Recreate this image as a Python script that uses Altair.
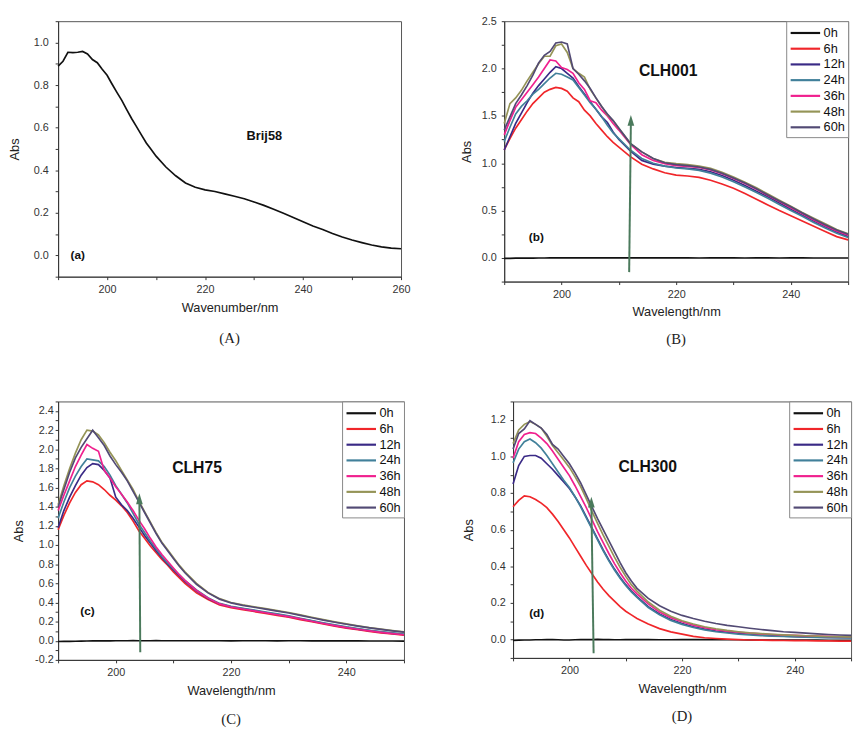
import altair as alt
import pandas as pd

# ---------------- data ----------------
series_order = ["0h", "6h", "12h", "24h", "36h", "48h", "60h"]
series_colors = ["#111111", "#f0262a", "#3a2a86", "#41809a", "#f0208e", "#959457", "#524a74"]

# Panel (a) Brij58
a_nm = [190, 191, 192, 193, 194, 195, 196, 197, 198, 199, 200, 201, 202, 203, 204, 205, 206, 207, 208, 209, 210,
        212, 214, 216, 218, 220, 222, 224, 226, 228, 230, 232, 234, 236, 238, 240, 242, 244, 246, 248, 250,
        252, 254, 256, 258, 260]
a_abs = [0.889, 0.912, 0.954, 0.952, 0.954, 0.958, 0.946, 0.920, 0.905, 0.874, 0.846, 0.805, 0.766, 0.728, 0.685,
         0.643, 0.605, 0.566, 0.528, 0.497, 0.466,
         0.415, 0.374, 0.340, 0.320, 0.308, 0.300, 0.289, 0.278, 0.266, 0.251, 0.235, 0.217, 0.198, 0.178, 0.158,
         0.138, 0.122, 0.103, 0.086, 0.072, 0.060, 0.049, 0.040, 0.034, 0.031]

# Panel (b) CLH001
b_nm = [190, 191, 192, 193, 194, 195, 196, 197, 198, 199, 200, 201, 202, 203, 204, 205, 206, 207, 208, 209, 210,
        212, 214, 216, 218, 220, 222, 224, 226, 228, 230, 232, 234, 236, 238, 240, 242, 244, 246, 248, 250]
b_0h = [-0.005, -0.004, -0.003, -0.003, -0.002, -0.002, -0.001, -0.001, 0.0, 0.0, 0.0, 0.001, 0.0, 0.0, 0.001,
        0.0, 0.0, 0.0, 0.001, 0.0, 0.0,
        0.0, 0.0, 0.001, 0.0, 0.0, 0.0, -0.001, 0.0, 0.0, 0.0, -0.001, 0.0, 0.0, -0.001, 0.0, 0.0, -0.001,
        -0.001, -0.001, -0.001]
b_6h = [1.14, 1.26, 1.37, 1.46, 1.55, 1.63, 1.69, 1.75, 1.78, 1.80, 1.79, 1.76, 1.69, 1.65, 1.56, 1.50, 1.42,
        1.35, 1.28, 1.22, 1.17,
        1.07, 0.99, 0.94, 0.90, 0.875, 0.865, 0.85, 0.82, 0.78, 0.735, 0.68, 0.62, 0.56, 0.50, 0.445, 0.39,
        0.335, 0.28, 0.225, 0.19]
b_12h = [1.14, 1.28, 1.42, 1.53, 1.64, 1.74, 1.82, 1.89, 1.96, 2.02, 2.00, 1.95, 1.90, 1.81, 1.73, 1.65, 1.57,
         1.49, 1.43, 1.33, 1.25,
         1.13, 1.03, 0.99, 0.97, 0.955, 0.945, 0.935, 0.91, 0.87, 0.82, 0.765, 0.705, 0.645, 0.58, 0.515, 0.45,
         0.39, 0.33, 0.275, 0.225]
b_24h = [1.23, 1.38, 1.52, 1.60, 1.66, 1.73, 1.78, 1.84, 1.90, 1.95, 1.94, 1.91, 1.88, 1.80, 1.72, 1.64, 1.57,
         1.49, 1.40, 1.32, 1.26,
         1.14, 1.05, 1.00, 0.97, 0.95, 0.94, 0.925, 0.895, 0.855, 0.805, 0.75, 0.69, 0.63, 0.565, 0.50, 0.44,
         0.375, 0.315, 0.26, 0.215]
b_36h = [1.30, 1.45, 1.59, 1.67, 1.75, 1.83, 1.91, 2.00, 2.09, 2.08, 2.01, 1.99, 1.95, 1.85, 1.78, 1.66, 1.64,
         1.56, 1.50, 1.42, 1.35,
         1.20, 1.09, 1.03, 0.995, 0.975, 0.965, 0.955, 0.93, 0.89, 0.84, 0.785, 0.725, 0.66, 0.595, 0.53, 0.465,
         0.40, 0.34, 0.285, 0.24]
b_48h = [1.42, 1.63, 1.69, 1.77, 1.87, 1.96, 2.05, 2.13, 2.13, 2.24, 2.26, 2.17, 2.00, 1.95, 1.91, 1.78, 1.69,
         1.60, 1.51, 1.45, 1.37,
         1.21, 1.12, 1.05, 1.01, 0.995, 0.985, 0.97, 0.945, 0.905, 0.855, 0.80, 0.74, 0.675, 0.61, 0.545, 0.48,
         0.42, 0.36, 0.30, 0.255]
b_60h = [1.35, 1.49, 1.63, 1.72, 1.82, 1.93, 2.06, 2.14, 2.18, 2.27, 2.28, 2.26, 2.00, 1.94, 1.87, 1.79, 1.69,
         1.60, 1.52, 1.45, 1.37,
         1.21, 1.12, 1.05, 1.005, 0.985, 0.975, 0.96, 0.935, 0.895, 0.845, 0.79, 0.73, 0.665, 0.60, 0.54, 0.475,
         0.41, 0.35, 0.295, 0.25]

# Panel (c) CLH75
c_nm = [190, 191, 192, 193, 194, 195, 196, 197, 198, 199, 200, 201, 202, 203, 204, 205, 206, 207, 208, 209, 210,
        211, 212, 214, 216, 218, 220, 222, 224, 226, 228, 230, 232, 234, 236, 238, 240, 242, 244, 246, 248, 250]
c_0h = [-0.008, -0.007, -0.006, -0.005, -0.004, -0.003, -0.002, -0.002, -0.001, -0.001, 0.0, 0.0, 0.0, 0.001,
        0.0, 0.0, 0.0, 0.001, 0.0, 0.0, 0.0, 0.0, 0.0,
        0.0, 0.0, 0.0, -0.001, 0.0, 0.0, 0.0, -0.001, 0.0, 0.0, -0.001, -0.001, -0.002, -0.002, -0.002, -0.003,
        -0.003, -0.003, -0.004]
c_6h = [1.16, 1.31, 1.44, 1.55, 1.63, 1.67, 1.66, 1.63, 1.58, 1.52, 1.47, 1.41, 1.34, 1.25, 1.15, 1.07, 0.99,
        0.92, 0.85, 0.79, 0.72, 0.66, 0.60,
        0.50, 0.43, 0.375, 0.345, 0.325, 0.305, 0.285, 0.265, 0.245, 0.22, 0.198, 0.175, 0.153, 0.132, 0.115,
        0.098, 0.083, 0.07, 0.058]
c_12h = [1.18, 1.36, 1.50, 1.62, 1.73, 1.81, 1.85, 1.84, 1.78, 1.70, 1.50, 1.42, 1.36, 1.28, 1.19, 1.10, 1.02,
         0.94, 0.87, 0.80, 0.74, 0.68, 0.62,
         0.52, 0.44, 0.385, 0.355, 0.335, 0.315, 0.295, 0.275, 0.255, 0.23, 0.207, 0.183, 0.161, 0.14, 0.122,
         0.105, 0.09, 0.077, 0.065]
c_24h = [1.28, 1.45, 1.60, 1.72, 1.82, 1.90, 1.89, 1.88, 1.82, 1.73, 1.62, 1.53, 1.44, 1.33, 1.22, 1.13, 1.04,
         0.96, 0.88, 0.81, 0.75, 0.69, 0.63,
         0.53, 0.45, 0.39, 0.36, 0.34, 0.32, 0.30, 0.28, 0.26, 0.235, 0.212, 0.188, 0.166, 0.145, 0.127, 0.11,
         0.095, 0.082, 0.07]
c_36h = [1.36, 1.52, 1.67, 1.82, 1.94, 2.05, 2.01, 1.98, 1.78, 1.70, 1.61, 1.53, 1.45, 1.36, 1.26, 1.17, 1.07,
         0.98, 0.90, 0.83, 0.76, 0.69, 0.63,
         0.525, 0.445, 0.385, 0.352, 0.332, 0.312, 0.292, 0.272, 0.252, 0.228, 0.204, 0.18, 0.158, 0.137, 0.12,
         0.103, 0.088, 0.075, 0.063]
c_48h = [1.42, 1.62, 1.80, 1.96, 2.10, 2.20, 2.19, 2.15, 2.07, 1.97, 1.88, 1.78, 1.68, 1.58, 1.46, 1.35, 1.24,
         1.13, 1.03, 0.95, 0.87, 0.79, 0.72,
         0.60, 0.505, 0.44, 0.40, 0.375, 0.355, 0.335, 0.315, 0.295, 0.27, 0.245, 0.22, 0.197, 0.176, 0.156,
         0.137, 0.121, 0.106, 0.093]
c_60h = [1.40, 1.58, 1.76, 1.91, 2.02, 2.11, 2.20, 2.12, 2.04, 1.93, 1.84, 1.76, 1.67, 1.56, 1.45, 1.34, 1.23,
         1.12, 1.02, 0.94, 0.86, 0.78, 0.71,
         0.59, 0.50, 0.435, 0.395, 0.37, 0.35, 0.33, 0.31, 0.29, 0.265, 0.24, 0.215, 0.193, 0.172, 0.152, 0.134,
         0.118, 0.103, 0.09]

# Panel (d) CLH300
d_nm = c_nm
d_0h = [-0.004, -0.003, -0.002, -0.002, -0.001, -0.001, 0.0, 0.0, -0.001, -0.002, -0.002, -0.001, 0.0, 0.0,
        0.0, 0.001, 0.0, 0.0, -0.001, -0.001, 0.0, 0.0, 0.0,
        0.0, -0.001, -0.001, 0.0, 0.0, 0.0, 0.0, -0.001, -0.001, -0.002, -0.002, -0.002, -0.002, -0.003,
        -0.003, -0.003, -0.004, -0.004, -0.004]
d_6h = [0.725, 0.76, 0.785, 0.78, 0.765, 0.745, 0.72, 0.685, 0.645, 0.60, 0.555, 0.505, 0.455, 0.405, 0.36,
        0.315, 0.275, 0.24, 0.21, 0.18, 0.155, 0.135, 0.115,
        0.085, 0.06, 0.042, 0.03, 0.018, 0.01, 0.006, 0.003, 0.0, -0.002, -0.003, -0.004, -0.005, -0.006,
        -0.006, -0.007, -0.007, -0.008, -0.008]
d_12h = [0.85, 0.95, 1.00, 1.005, 1.005, 0.99, 0.96, 0.93, 0.895, 0.86, 0.825, 0.78, 0.73, 0.67, 0.61, 0.55,
         0.49, 0.435, 0.385, 0.34, 0.30, 0.265, 0.235,
         0.18, 0.14, 0.11, 0.088, 0.07, 0.057, 0.047, 0.04, 0.034, 0.029, 0.025, 0.022, 0.019, 0.017, 0.015,
         0.013, 0.012, 0.011, 0.01]
d_24h = [0.965, 1.04, 1.08, 1.095, 1.075, 1.045, 1.005, 0.96, 0.915, 0.87, 0.83, 0.78, 0.725, 0.665, 0.605,
         0.545, 0.485, 0.43, 0.38, 0.335, 0.295, 0.26, 0.23,
         0.175, 0.135, 0.105, 0.083, 0.066, 0.053, 0.043, 0.036, 0.03, 0.026, 0.022, 0.019, 0.017, 0.015, 0.013,
         0.012, 0.011, 0.01, 0.009]
d_36h = [0.99, 1.08, 1.12, 1.13, 1.125, 1.10, 1.07, 1.03, 0.985, 0.94, 0.895, 0.84, 0.78, 0.72, 0.655, 0.59,
         0.53, 0.47, 0.415, 0.365, 0.32, 0.28, 0.25,
         0.195, 0.15, 0.12, 0.097, 0.079, 0.065, 0.054, 0.046, 0.04, 0.035, 0.031, 0.028, 0.025, 0.023, 0.021,
         0.019, 0.018, 0.017, 0.016]
d_48h = [1.07, 1.145, 1.175, 1.19, 1.175, 1.155, 1.11, 1.06, 1.02, 0.98, 0.94, 0.89, 0.835, 0.77, 0.70, 0.635,
         0.57, 0.51, 0.45, 0.395, 0.345, 0.30, 0.265,
         0.205, 0.16, 0.128, 0.103, 0.085, 0.07, 0.059, 0.05, 0.043, 0.037, 0.033, 0.029, 0.026, 0.023, 0.021,
         0.019, 0.017, 0.016, 0.015]
d_60h = [1.04, 1.125, 1.15, 1.195, 1.175, 1.155, 1.12, 1.065, 1.04, 1.0, 0.96, 0.91, 0.855, 0.79, 0.725, 0.66,
         0.60, 0.54, 0.48, 0.42, 0.365, 0.32, 0.28,
         0.225, 0.185, 0.155, 0.132, 0.115, 0.10, 0.088, 0.078, 0.07, 0.062, 0.055, 0.049, 0.043, 0.039, 0.035,
         0.031, 0.028, 0.025, 0.023]

# annotations: (label, nm, abs, font size)
a_texts = [("Brij58", 232.1, 0.56, 13), ("(a)", 194.0, 0.0, 12)]
b_texts = [("CLH001", 218.6, 1.97, 16), ("(b)", 195.6, 0.22, 12)]
c_texts = [("CLH75", 214.1, 1.80, 16), ("(c)", 195.1, 0.31, 12)]
d_texts = [("CLH300", 213.9, 0.94, 16), ("(d)", 194.2, 0.147, 12)]

# arrows: nm_bottom, abs_bottom, nm_top, abs_top
b_arrow = [211.8, -0.15, 212.1, 1.51]
c_arrow = [204.25, -0.12, 204.1, 1.54]
d_arrow = [204.3, -0.075, 203.9, 0.78]

ARROW_COLOR = "#4b7a5c"
FONT = "Liberation Sans"


def long_df(nm, table):
    rows = []
    for name in series_order:
        for x, y in zip(nm, table[name]):
            rows.append({"nm": x, "abs": y, "series": name})
    return pd.DataFrame(rows)


def ticks(lo, hi, step):
    n = int(round((hi - lo) / step))
    return [round(lo + i * step, 3) for i in range(n + 1)]


def make_panel(df, xdom, ydom, xvals, yvals, ylabel_expr, xtitle, caption, width, height,
               texts, arrow=None, colored=True, ypad=(10, 3), cap_offset=14):
    xlab = "datum.value % 20 == 0 ? format(datum.value, 'd') : ''"
    xaxis = alt.Axis(values=xvals, labelExpr=xlab, title=xtitle, tickSize=3, labelPadding=4,
                     titlePadding=7, labelFontSize=11, titleFontSize=13, labelFlush=False,
                     labelOverlap=False)
    yaxis = alt.Axis(values=yvals, labelExpr=ylabel_expr, title="Abs", tickSize=3,
                     labelPadding=ypad[1], titlePadding=ypad[0], labelFontSize=11, titleFontSize=13,
                     labelFlush=False, labelOverlap=False)
    xs = alt.Scale(domain=xdom, nice=False, zero=False)
    ys = alt.Scale(domain=ydom, nice=False, zero=False)
    X = lambda f="nm:Q": alt.X(f, scale=xs, axis=xaxis)
    Y = lambda f="abs:Q": alt.Y(f, scale=ys, axis=yaxis)

    if colored:
        lines = alt.Chart(df).mark_line(strokeWidth=1.7).encode(
            x=X(), y=Y(),
            color=alt.Color("series:N", sort=series_order,
                            scale=alt.Scale(domain=series_order, range=series_colors),
                            legend=alt.Legend(title=None, orient="top-right", offset=0,
                                              symbolType="M-1,0L3,0", symbolSize=225,
                                              symbolStrokeWidth=2.2, labelFontSize=13,
                                              labelFont=FONT, labelColor="#111",
                                              padding=3, rowPadding=0, labelOffset=17,
                                              strokeColor="#888", fillColor="white")),
            strokeWidth=alt.condition(alt.datum.series == "0h", alt.value(2.2), alt.value(1.7)),
            order=alt.Order("nm:Q"),
        )
    else:
        lines = alt.Chart(df).mark_line(strokeWidth=1.7, color="#111111").encode(
            x=X(), y=Y(), order=alt.Order("nm:Q"),
        )

    tdf = pd.DataFrame([{"label": t[0], "nm": t[1], "abs": t[2], "fs": t[3]} for t in texts])
    text_layers = []
    for fs in sorted(tdf["fs"].unique()):
        sub = tdf[tdf["fs"] == fs]
        text_layers.append(
            alt.Chart(sub).mark_text(font=FONT, fontWeight="bold", fontSize=int(fs), color="#111",
                                     align="center", baseline="middle").encode(
                x=X(), y=Y(), text="label:N")
        )

    layers = [lines] + text_layers
    if arrow is not None:
        head_px = 11.0
        span = ydom[1] - ydom[0]
        shaft_top = arrow[3] - (head_px * 0.6) / height * span
        adf = pd.DataFrame([{"nm": arrow[0], "abs": arrow[1], "nm2": arrow[2], "abs2": shaft_top}])
        hdf = pd.DataFrame([{"nm": arrow[2], "abs": arrow[3]}])
        shaft = alt.Chart(adf).mark_rule(color=ARROW_COLOR, strokeWidth=2).encode(
            x=X(), y=Y(), x2="nm2:Q", y2="abs2:Q")
        head = alt.Chart(hdf).mark_point(shape="M0,0L0.62,2L-0.62,2Z", filled=True, size=121,
                                         color=ARROW_COLOR, opacity=1).encode(x=X(), y=Y())
        layers += [shaft, head]

    return alt.layer(*layers).properties(
        width=width, height=height,
        title=alt.TitleParams(caption, orient="bottom", anchor="middle", font="Liberation Serif",
                              fontSize=15, fontWeight="normal", color="#222", offset=cap_offset),
    )


# panel dataframes
df_a = pd.DataFrame({"nm": a_nm, "abs": a_abs})
df_b = long_df(b_nm, {"0h": b_0h, "6h": b_6h, "12h": b_12h, "24h": b_24h, "36h": b_36h, "48h": b_48h,
                      "60h": b_60h})
df_c = long_df(c_nm, {"0h": c_0h, "6h": c_6h, "12h": c_12h, "24h": c_24h, "36h": c_36h, "48h": c_48h,
                      "60h": c_60h})
df_d = long_df(d_nm, {"0h": d_0h, "6h": d_6h, "12h": d_12h, "24h": d_24h, "36h": d_36h, "48h": d_48h,
                      "60h": d_60h})

fixminus = "replace(format(datum.value, '.1f'), '\u2212', '-')"

panel_a = make_panel(
    df_a, [190, 260], [-0.1, 1.1], ticks(190, 260, 10), ticks(-0.1, 1.1, 0.1),
    f"(abs(round(datum.value*10)) % 2 == 0 && datum.value > -0.05 && datum.value < 1.05) ? {fixminus} : ''",
    "Wavenumber/nm", "(A)", 349, 260, a_texts, None, colored=False, ypad=(12, 7), cap_offset=17)

panel_b = make_panel(
    df_b, [190, 250], [-0.25, 2.5], ticks(190, 250, 10), ticks(-0.25, 2.5, 0.25),
    f"(round(datum.value*4) % 2 == 0 && datum.value > -0.05) ? {fixminus} : ''",
    "Wavelength/nm", "(B)", 350, 265, b_texts, b_arrow, ypad=(8, 5), cap_offset=14)

panel_c = make_panel(
    df_c, [190, 250], [-0.2, 2.5], ticks(190, 250, 10), ticks(-0.2, 2.5, 0.1),
    f"(abs(round(datum.value*10)) % 2 == 0 && datum.value < 2.45) ? {fixminus} : ''",
    "Wavelength/nm", "(C)", 352, 263, c_texts, c_arrow, ypad=(9, 2), cap_offset=15)

panel_d = make_panel(
    df_d, [190, 250], [-0.1, 1.3], ticks(190, 250, 10), ticks(-0.1, 1.3, 0.1),
    f"(abs(round(datum.value*10)) % 2 == 0 && datum.value > -0.05 && datum.value < 1.25) ? {fixminus} : ''",
    "Wavelength/nm", "(D)", 344, 261, d_texts, d_arrow, ypad=(15, 5), cap_offset=14)

row1 = alt.hconcat(panel_a, panel_b, spacing=50).resolve_scale(color="independent").resolve_legend(
    color="independent")
row2 = alt.hconcat(panel_c, panel_d, spacing=55).resolve_scale(color="independent").resolve_legend(
    color="independent")

chart = alt.vconcat(row1, row2, spacing=47).resolve_scale(color="independent").resolve_legend(
    color="independent").properties(
    padding={"left": 0, "top": 0, "right": 0, "bottom": 0},
    background="white",
).configure_view(
    stroke="#555", strokeWidth=1
).configure_axis(
    grid=False, domainColor="#333", tickColor="#333", labelColor="#333", titleColor="#222",
    labelFont=FONT, titleFont=FONT, titleFontWeight="normal", domainWidth=1, tickWidth=1,
    labelOverlap=False
)

chart.save("out.html", embed_options={"renderer": "svg", "actions": False})
